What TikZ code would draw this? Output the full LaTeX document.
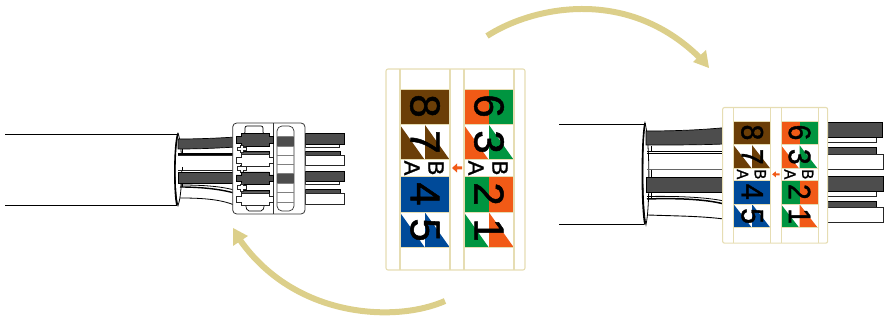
\documentclass[tikz,border=0pt]{standalone}
\usepackage{fontspec}
\usepackage{graphicx}
\setmainfont{Liberation Sans}
\newfontfamily\glyphfont[FakeBold=1.2]{Liberation Sans}
\definecolor{cardtan}{HTML}{E6DDB3}
\definecolor{arctan}{HTML}{DCCF8A}
\definecolor{cbrown}{HTML}{6B3E07}
\definecolor{corange}{HTML}{F15A16}
\definecolor{cgreen}{HTML}{009540}
\definecolor{cblue}{HTML}{004A99}
\definecolor{wiredark}{HTML}{4D4D4D}
\tikzset{
  cardline/.style={draw=cardtan,line width=1.1pt},
  bigglyph/.style={inner sep=0pt,rotate=-90,font=\glyphfont\fontsize{42}{42}\selectfont},
  smallglyph/.style={inner sep=0pt,rotate=-90,font=\glyphfont\fontsize{22}{22}\selectfont},
  darkwire/.style={fill=wiredark,draw=black,line width=.7pt},
  whitewire/.style={fill=white,draw=black!85,line width=.7pt},
  hull/.style={line width=.7pt,draw=black},
  bigarrow/.style={draw=arctan,line width=6pt},
  bighead/.style={fill=arctan,draw=none}
}
% #1 x0, #2 y0, #3 xscale, #4 yscale, #5 left edge, #6 right edge
\newcommand\wirecard[6]{%
\begin{scope}[shift={(#1,#2)},xscale=#3,yscale=#4]
  \fill[white] (#5,-20) rectangle (#6,181);
  \fill[cbrown] (0,0) rectangle (50,35);
  \fill[corange] (64,0) rectangle (89,35);
  \fill[cgreen] (89,0) rectangle (114,35);
  \fill[cblue] (0,87.5) rectangle (50,123);
  \fill[cgreen] (64,87.5) rectangle (89,123);
  \fill[corange] (89,87.5) rectangle (114,123);
  \fill[cbrown] (0,36) -- (24.5,70.5) -- (0,70.5) -- cycle (25,36) -- (49.5,70.5) -- (25,70.5) -- cycle;
  \fill[corange] (64,36) -- (88.5,70.5) -- (64,70.5) -- cycle;
  \fill[cgreen] (89,36) -- (113.5,70.5) -- (89,70.5) -- cycle;
  \fill[cblue] (0,123.5) -- (24.5,158) -- (0,158) -- cycle (25,123.5) -- (49.5,158) -- (25,158) -- cycle;
  \fill[cgreen] (64,123.5) -- (88.5,158) -- (64,158) -- cycle;
  \fill[corange] (89,123.5) -- (113.5,158) -- (89,158) -- cycle;
  \draw[cardline,rounded corners=2pt] (#5,-20) rectangle (#6,181);
  \foreach \vx in {0,50,64,114} \draw[cardline] (\vx,-20) -- (\vx,181);
  \foreach \hy in {0,35,70.5,87.5,123,158} {
    \draw[draw=cardtan,line width=.6pt] (0,\hy) -- (50,\hy);
    \draw[draw=cardtan,line width=.6pt] (64,\hy) -- (114,\hy);
  }
  \node[bigglyph] (n8#1) at (25,17) {\scalebox{#4}[#3]{8}};
  \node[bigglyph] (n7#1) at (25,53) {\scalebox{#4}[#3]{7}};
  \node[bigglyph] (n4#1) at (25,105) {\scalebox{#4}[#3]{4}};
  \node[bigglyph] (n5#1) at (25,141) {\scalebox{#4}[#3]{5}};
  \node[bigglyph] (n6#1) at (89,17) {\scalebox{#4}[#3]{6}};
  \node[bigglyph] (n3#1) at (89,53) {\scalebox{#4}[#3]{3}};
  \node[bigglyph] (n2#1) at (89,105) {\scalebox{#4}[#3]{2}};
  \node[bigglyph] (n1#1) at (89,141) {\scalebox{#4}[#3]{1}};
  \node[smallglyph] (la#1) at (12,79) {\scalebox{#4}[#3]{A}};
  \node[smallglyph] (lb#1) at (36,79) {\scalebox{#4}[#3]{B}};
  \node[smallglyph] (ra#1) at (76,79) {\scalebox{#4}[#3]{A}};
  \node[smallglyph] (rb#1) at (100,79) {\scalebox{#4}[#3]{B}};
  \fill[corange] (52,79) -- (57,74.5) -- (57,77.5) -- (62,77.5) -- (62,80.5) -- (57,80.5) -- (57,83.5) -- cycle;
\end{scope}}
% #1 y top, #2 height, #3 style
\newcommand\clipbody[3]{%
  \draw[#3] (236,{#1+3}) -- (241,{#1+3}) -- (241,#1) -- (269,#1) -- (269,{#1+3}) -- (273,{#1+3}) -- (273,{#1+#2-3}) -- (269,{#1+#2-3}) -- (269,{#1+#2}) -- (241,{#1+#2}) -- (241,{#1+#2-3}) -- (236,{#1+#2-3}) -- cycle;}
% #1 y top of cross
\newcommand\clipcross[1]{%
  \draw[whitewire] (237,{#1+1.5}) -- (240,{#1+1.5}) -- (240,#1) -- (243,#1) -- (243,{#1+1.5}) -- (246,{#1+1.5}) -- (246,{#1+5}) -- (243,{#1+5}) -- (243,{#1+7}) -- (240,{#1+7}) -- (240,{#1+5}) -- (237,{#1+5}) -- cycle;}
\begin{document}
\begin{tikzpicture}[x=1pt,y=-1pt]
\useasboundingbox (0,0) rectangle (887,320);
% ---- left assembly: cable
\draw[line width=.8pt] (5,134) -- (177,134);
\draw[line width=.8pt] (5,205) -- (177,205);
\draw[fill=white,line width=.8pt] (178,133.5) .. controls (183,145) and (183,193) .. (178,205.5) .. controls (174,193) and (174,145) .. (178,133.5) -- cycle;
\draw[line width=1.6pt] (178,133.5) .. controls (174,145) and (174,193) .. (177,205.5);
% wires
\draw[whitewire] (178,155) -- (236,155) -- (236,170) -- (178,170);
\draw[line width=1.6pt] (178,154) -- (236,154);
\draw[line width=.8pt] (180,198) .. controls (200,198) and (220,199) .. (234,205);
\draw[line width=1.4pt] (180,187) .. controls (200,187) and (220,189) .. (234,193);
\draw[line width=.8pt] (180,185) .. controls (200,185) and (220,186) .. (234,190);
\draw[darkwire] (178,139) .. controls (200,139) and (220,138) .. (236,137) -- (236,147) .. controls (220,148) and (200,149) .. (178,149) -- cycle;
\draw[darkwire] (178,172) rectangle (236,183);
\foreach \ty in {149,167,183} \draw[line width=.8pt] (182,\ty) -- (182,{\ty+4});
% right stubs
\draw[whitewire] (305,144) rectangle (339.3,147.3);
\draw[darkwire] (305,133.3) rectangle (344.3,144);
\draw[darkwire] (305,151) rectangle (340,155);
\draw[whitewire] (305,155) rectangle (344.3,165.7);
\draw[whitewire] (305,181.3) rectangle (339.3,184.5);
\draw[darkwire] (305,171) rectangle (344.3,181.3);
\draw[darkwire] (305,189) rectangle (340,193);
\draw[whitewire] (305,193) rectangle (344.3,204);
% clip
\draw[fill=white,draw=black!80,line width=.8pt,rounded corners=4pt] (232.7,123) rectangle (305,214);
\draw[draw=black!80,line width=.8pt] (273,123) -- (273,214);
\draw[hull,fill=white,rounded corners=2pt] (241,134) -- (245,134) -- (245,126) -- (263,126) -- (263,134) -- (269,134);
\draw[hull,fill=white,rounded corners=2pt] (241,202) -- (245,202) -- (247,211) -- (263,211) -- (265,202) -- (269,202);
\clipcross{165}
\fill[wiredark,draw=black,line width=.6pt] (241,151.5) rectangle (269,155);
\fill[wiredark,draw=black,line width=.6pt] (241,190) rectangle (269,194);
\clipbody{133.5}{13}{darkwire}
\clipbody{154}{12.5}{whitewire}
\clipbody{172}{12.5}{darkwire}
\clipbody{193}{12}{whitewire}
\clipcross{145.5}
\clipcross{184}
% pill
\draw[fill=white,draw=black!80,line width=.7pt,rounded corners=5pt] (277,126) rectangle (294,211);
\fill[wiredark] (277,136) rectangle (294,146);
\fill[wiredark] (277,173) rectangle (294,183);
\foreach \py in {136,146,155,164,173,183,192,202} \draw[draw=black!50,line width=.7pt] (277,\py) -- (294,\py);
% ---- right assembly: cable
\draw[line width=.8pt] (559,124) -- (644,124);
\draw[line width=.8pt] (559,224) -- (644,224);
\draw[fill=white,line width=.8pt] (645,123) .. controls (650,140) and (650,208) .. (646,224.5) .. controls (642,208) and (642,140) .. (645,123) -- cycle;
\draw[line width=1.6pt] (645,123) .. controls (641.5,140) and (641.5,208) .. (645,224.5);
\draw[line width=.9pt] (647,153) -- (724,153);
\draw[line width=.9pt] (647,151) -- (724,151);
\draw[draw=black!60,line width=.9pt] (647,169) -- (724,169);
\draw[line width=.9pt] (648,215) .. controls (675,216) and (700,216) .. (724,219);
\draw[line width=1.5pt] (647,199) .. controls (675,198) and (705,199) .. (724,204);
\draw[line width=.8pt] (647,196.5) .. controls (675,196) and (705,197) .. (724,201);
\draw[darkwire] (646,131) .. controls (675,131) and (700,130) .. (724,127.7) -- (724,144) .. controls (700,145) and (675,145) .. (646,145) -- cycle;
\draw[darkwire] (646,177) rectangle (724,192.7);
\foreach \ty/\th in {146/151,170/177,193/199} \draw[line width=.8pt] (651,\ty) -- (651,\th);
% right stubs
\draw[whitewire] (826,137.3) rectangle (876.7,142.3);
\draw[darkwire] (826,122.7) rectangle (882.7,137.3);
\draw[darkwire] (826,147.7) rectangle (876.7,154.3);
\draw[whitewire] (826,154.3) rectangle (883,169);
\draw[whitewire] (826,191) rectangle (876.7,196.3);
\draw[darkwire] (826,176.7) rectangle (883,191);
\draw[darkwire] (826,201.7) rectangle (876.7,207.7);
\draw[whitewire] (826,207.7) rectangle (883,222.7);
% ---- wiring cards
\wirecard{400}{89}{1}{1}{-14}{125}
\wirecard{733.7}{121}{.74}{.675}{-15}{127}
% ---- arcs
\coordinate (a1s) at (487,36);
\coordinate (a1e) at (699,57);
\draw[bigarrow] (a1s) .. controls (530,8) and (625,-15) .. (a1e);
\fill[bighead] (709,68) -- (693,62) -- (706,50) -- cycle;
\coordinate (a2s) at (445,301);
\coordinate (a2e) at (240,240);
\draw[bigarrow] (a2s) .. controls (395,323) and (295,318) .. (a2e);
\fill[bighead] (233,228) -- (248,236) -- (233,246) -- cycle;
\end{tikzpicture}
\end{document}
